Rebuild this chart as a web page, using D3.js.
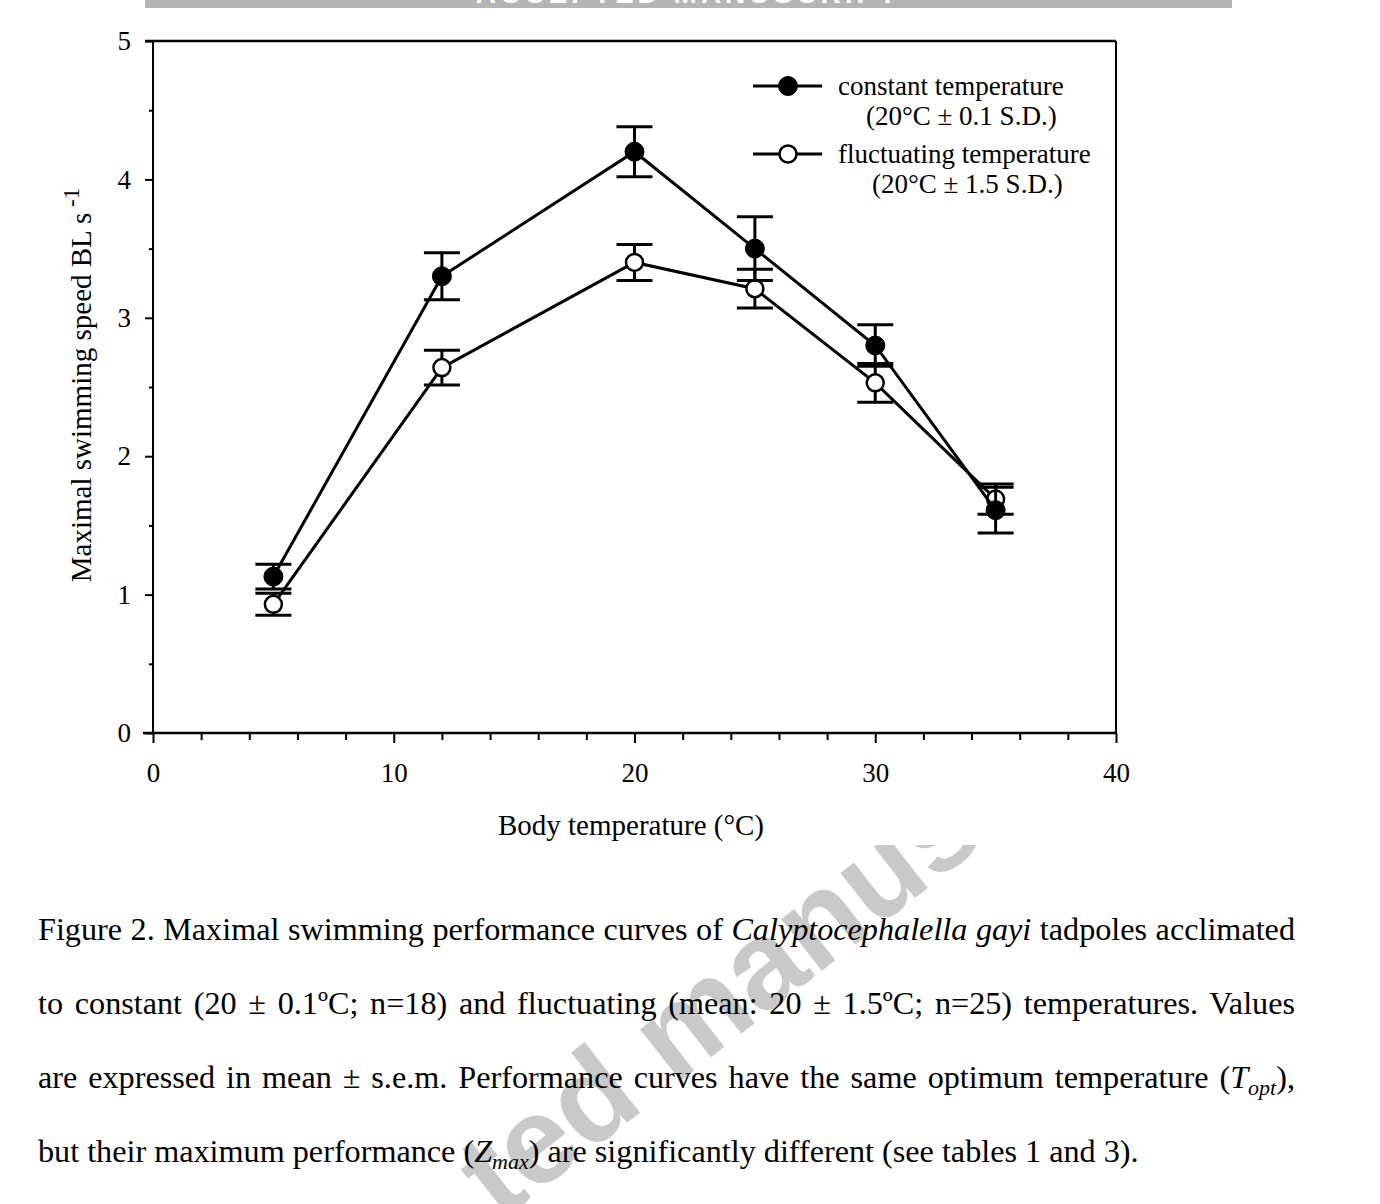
<!DOCTYPE html>
<html>
<head>
<meta charset="utf-8">
<script src="https://cdn.jsdelivr.net/npm/d3@7"></script>
<style>
  html, body { margin: 0; padding: 0; background: #fff; }
  svg { display: block; }
  text { font-family: "Liberation Serif", "Times New Roman", serif; }
</style>
</head>
<body>
<svg id="chart" width="1380" height="1204"></svg>
<script>
// ---- data ----
const temps = [5, 12, 20, 25, 30, 35];
const constantMean = [1.13, 3.30, 4.20, 3.50, 2.80, 1.61];
const constantSem  = [0.09, 0.17, 0.18, 0.23, 0.15, 0.165];
const fluctMean    = [0.93, 2.64, 3.40, 3.21, 2.53, 1.69];
const fluctSem     = [0.08, 0.125, 0.13, 0.14, 0.14, 0.11];

const xMajorTicks = [0, 10, 20, 30, 40];
const xMinorTicks = [2, 4, 6, 8, 12, 14, 16, 18, 22, 24, 26, 28, 32, 34, 36, 38];
const yMajorTicks = [0, 1, 2, 3, 4, 5];
const yMinorTicks = [0.5, 1.5, 2.5, 3.5, 4.5];

const seriesNames = ["constant temperature", "fluctuating temperature"];
const seriesSub = ["(20°C ± 0.1 S.D.)", "(20°C ± 1.5 S.D.)"];
const xTitle = "Body temperature (°C)";
const yTitle = "Maximal swimming speed BL s";

const svg = d3.select("#chart");

// ---- watermark (behind everything) ----
const wm = svg.append("g").attr("transform", "translate(500,1222) rotate(-38)")
  .style("font-weight", "bold").style("font-size", "124px").attr("fill", "#c9c9c9");
wm.append("text").attr("x", 0).attr("y", 0).style("font-family", "'Liberation Sans', Arial, sans-serif").text("ted manuscript");

// figure area (opaque white, hides watermark)
svg.append("rect").attr("x", 0).attr("y", 0).attr("width", 1380).attr("height", 845).attr("fill", "#fff");

// top grey banner
svg.append("rect").attr("x", 145).attr("y", 0).attr("width", 1087).attr("height", 8).attr("fill", "#b5b5b5");
svg.append("text").attr("x", 688).attr("y", 3).attr("text-anchor", "middle")
  .style("font-family", "'Liberation Sans', Arial, sans-serif").style("font-weight", "bold")
  .style("font-size", "28px").attr("fill", "#fff").attr("letter-spacing", "4").text("ACCEPTED MANUSCRIPT");

// ---- scales ----
const x = d3.scaleLinear().domain([0, 40]).range([153, 1116]);
const y = d3.scaleLinear().domain([0, 5]).range([733, 41]);

// ---- axes ----
const gx = svg.append("g").attr("transform", "translate(0,733)");
gx.call(d3.axisBottom(x).tickValues(xMajorTicks).tickSize(10).tickPadding(20).tickFormat(d3.format("d")));
gx.select(".domain").remove();
gx.selectAll("line").attr("stroke", "#000").attr("stroke-width", 2);
gx.selectAll("text").style("font-family", "'Liberation Serif', serif").style("font-size", "27px").attr("fill", "#000");
const gxm = svg.append("g").attr("transform", "translate(0,733)");
gxm.call(d3.axisBottom(x).tickValues(xMinorTicks).tickSize(7).tickFormat(""));
gxm.select(".domain").remove();
gxm.selectAll("line").attr("stroke", "#000").attr("stroke-width", 2);

const gy = svg.append("g").attr("transform", "translate(153,0)");
gy.call(d3.axisLeft(y).tickValues(yMajorTicks).tickSize(8).tickPadding(14).tickFormat(d3.format("d")));
gy.select(".domain").remove();
gy.selectAll("line").attr("stroke", "#000").attr("stroke-width", 2);
gy.selectAll("text").style("font-family", "'Liberation Serif', serif").style("font-size", "27px").attr("fill", "#000");
const gym = svg.append("g").attr("transform", "translate(153,0)");
gym.call(d3.axisLeft(y).tickValues(yMinorTicks).tickSize(4).tickFormat(""));
gym.select(".domain").remove();
gym.selectAll("line").attr("stroke", "#000").attr("stroke-width", 2);

// frame
const frame = svg.append("g").attr("stroke", "#000").attr("fill", "none");
frame.append("line").attr("x1", 143).attr("x2", x(40)).attr("y1", y(0)).attr("y2", y(0)).attr("stroke-width", 2.5);
frame.append("line").attr("x1", 145).attr("x2", x(40)).attr("y1", y(5)).attr("y2", y(5)).attr("stroke-width", 2.5);
frame.append("line").attr("x1", x(0)).attr("x2", x(0)).attr("y1", y(5)).attr("y2", y(0)).attr("stroke-width", 2);
frame.append("line").attr("x1", x(40)).attr("x2", x(40)).attr("y1", y(5)).attr("y2", y(0)).attr("stroke-width", 2);

// axis titles
svg.append("text").attr("x", 631).attr("y", 835).attr("text-anchor", "middle")
  .style("font-size", "29px").text(xTitle);
const yt = svg.append("text").attr("transform", "translate(91,385) rotate(-90)").attr("text-anchor", "middle")
  .style("font-size", "29px");
yt.append("tspan").text(yTitle);
yt.append("tspan").attr("dy", -12).style("font-size", "23px").text(" -1");

// ---- series ----
function drawSeries(means, sems, filled) {
  const pts = temps.map((t, i) => ({ t, m: means[i], e: sems[i] }));
  const g = svg.append("g");
  g.append("path").datum(pts)
    .attr("d", d3.line().x(d => x(d.t)).y(d => y(d.m)))
    .attr("fill", "none").attr("stroke", "#000").attr("stroke-width", 3);
  const eb = g.selectAll(".eb").data(pts).enter().append("g").attr("stroke", "#000").attr("stroke-width", 3);
  eb.append("line").attr("x1", d => x(d.t)).attr("x2", d => x(d.t)).attr("y1", d => y(d.m - d.e)).attr("y2", d => y(d.m + d.e));
  eb.append("line").attr("x1", d => x(d.t) - 18).attr("x2", d => x(d.t) + 18).attr("y1", d => y(d.m + d.e)).attr("y2", d => y(d.m + d.e));
  eb.append("line").attr("x1", d => x(d.t) - 18).attr("x2", d => x(d.t) + 18).attr("y1", d => y(d.m - d.e)).attr("y2", d => y(d.m - d.e));
  g.selectAll(".pt").data(pts).enter().append("circle")
    .attr("cx", d => x(d.t)).attr("cy", d => y(d.m)).attr("r", filled ? 9.5 : 8.5)
    .attr("fill", filled ? "#000" : "#fff").attr("stroke", "#000").attr("stroke-width", filled ? 1 : 2.5);
}
drawSeries(fluctMean, fluctSem, false);
drawSeries(constantMean, constantSem, true);

// ---- legend ----
const legY = [86, 154];
const leg = svg.append("g");
[0, 1].forEach(i => {
  leg.append("line").attr("x1", 753).attr("x2", 822).attr("y1", legY[i]).attr("y2", legY[i])
    .attr("stroke", "#000").attr("stroke-width", 3);
  leg.append("circle").attr("cx", 788).attr("cy", legY[i]).attr("r", i === 0 ? 9.5 : 8.5)
    .attr("fill", i === 0 ? "#000" : "#fff").attr("stroke", "#000").attr("stroke-width", i === 0 ? 1 : 2.5);
  leg.append("text").attr("x", 838).attr("y", legY[i] + 9).style("font-size", "27px").text(seriesNames[i]);
  leg.append("text").attr("x", i === 0 ? 866 : 872).attr("y", legY[i] + 39).style("font-size", "27px").text(seriesSub[i]);
});

// ---- caption ----
const capLines = [
  [["Figure 2. Maximal swimming performance curves of ", "n"], ["Calyptocephalella gayi", "i"], [" tadpoles acclimated", "n"]],
  [["to constant (20 ± 0.1ºC; n=18) and fluctuating (mean: 20 ± 1.5ºC; n=25) temperatures. Values", "n"]],
  [["are expressed in mean ± s.e.m. Performance curves have the same optimum temperature (", "n"], ["T", "i"], ["opt", "s"], ["),", "n"]],
  [["but their maximum performance (", "n"], ["Z", "i"], ["max", "s"], [") are significantly different (see tables 1 and 3).", "n"]]
];
const capBase = [940, 1014, 1088, 1162];
const capLeft = 38, capRight = 1295;
capLines.forEach((parts, li) => {
  const t = svg.append("text").attr("x", capLeft).attr("y", capBase[li])
    .style("font-size", "32.2px").style("white-space", "pre").attr("fill", "#000");
  let shifted = 0;
  parts.forEach(([s, k]) => {
    const ts = t.append("tspan").text(s);
    if (k === "i") ts.style("font-style", "italic");
    if (k === "s") { ts.style("font-style", "italic").style("font-size", "22px").attr("dy", 7); shifted = 7; }
    else if (shifted) { ts.attr("dy", -shifted); shifted = 0; }
  });
  if (li < 3) {
    const w = t.node().getComputedTextLength();
    const nSp = parts.map(p => p[0]).join("").split(" ").length - 1;
    const extra = (capRight - capLeft - w) / nSp;
    t.attr("word-spacing", extra);
  }
});
</script>
</body>
</html>
